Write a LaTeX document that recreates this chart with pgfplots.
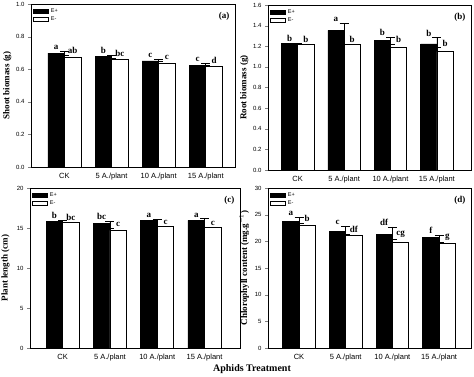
\documentclass[border=0pt]{standalone}
\usepackage{pgfplots}
\pgfplotsset{compat=1.18}
\usepackage{fontspec}
\setmainfont{Liberation Serif}
\setsansfont{Liberation Sans}

\tikzset{plab/.style={font=\bfseries\fontsize{9}{10}\selectfont}}
\pgfplotsset{
 panel/.style={
  scale only axis, anchor=south west,
  xtick={1,2,3,4}, xticklabels={CK,5 A./plant,10 A./plant,15 A./plant},
  x tick label style={font=\sffamily\fontsize{7.5}{8}\selectfont},
  y tick label style={font=\sffamily\fontsize{6}{7}\selectfont},
  /pgf/number format/assume math mode=true,
  tick align=outside, xtick style={draw=none}, ytick pos=left, major tick length=3pt,
  ymin=0, axis line style={line width=0.8pt, black},
  every axis y label/.style={at={(axis description cs:-0.117,0.5)}, anchor=center, rotate=90, font=\bfseries\fontsize{9}{10}\selectfont},
  legend style={at={(rel axis cs:0,1)}, anchor=north west, xshift=1pt, yshift=-2pt, draw=none, fill=none, font=\sffamily\fontsize{5.5}{6.5}\selectfont, row sep=-1.5pt, inner sep=1pt},
  legend image code/.code={\draw[#1] (0pt,-2pt) rectangle (15pt,2pt);},
  legend cell align=left,
  error bars/error bar style={line width=0.7pt, black},
  error bars/error mark options={rotate=90, mark size=4.5pt, line width=0.7pt, black},
 },
 eplus/.style={ybar, bar width=0.35, bar shift=-0.175, fill=black, draw=black, line width=0.7pt, error bars/.cd, y dir=plus, y explicit},
 eminus/.style={ybar, bar width=0.35, bar shift=0.175, fill=white, draw=black, line width=0.7pt, error bars/.cd, y dir=plus, y explicit},
 lett/.style={forget plot, draw=none, mark=none, nodes near coords, point meta=explicit symbolic, nodes near coords style={font=\bfseries\fontsize{9}{9}\selectfont, anchor=south, inner sep=1.5pt}},
}

\begin{document}
\begin{tikzpicture}
\useasboundingbox (0pt,0pt) rectangle (474pt,376pt);

% (a)
\begin{axis}[panel, at={(31pt,209pt)}, width=204pt, height=163pt,
  xmin=0.29, xmax=4.62, ymax=1.0, ytick distance=0.2,
  yticklabel style={/pgf/number format/.cd, fixed, fixed zerofill, precision=1},
  ylabel={Shoot biomass (g)}]
\addplot[eplus] coordinates {(1,0.698) +- (0,0.010) (2,0.676) +- (0,0.012) (3,0.651) +- (0,0.012) (4,0.624) +- (0,0.013)};
\addplot[eminus] coordinates {(1,0.671) +- (0,0.015) (2,0.663) +- (0,0.002) (3,0.637) +- (0,0.014) (4,0.616) +- (0,0.008)};
\legend{E+,E-}
\addplot[lett] coordinates {(0.825,0.708) [a] (1.825,0.688) [b] (2.825,0.663) [c] (3.825,0.637) [c]};
\addplot[lett] coordinates {(1.175,0.686) [ab] (2.175,0.665) [bc] (3.175,0.651) [c] (4.175,0.624) [d]};
\node[plab, anchor=north east, xshift=-2pt, yshift=-5pt] at (rel axis cs:1,1) {(a)};
\end{axis}

% (b)
\begin{axis}[panel, at={(268pt,206pt)}, width=203pt, height=165pt,
  xmin=0.36, xmax=4.735, ymax=1.6, ytick distance=0.2,
  yticklabel style={/pgf/number format/.cd, fixed, fixed zerofill, precision=1},
  ylabel={Root biomass (g)}]
\addplot[eplus] coordinates {(1,1.225) +- (0,0.005) (2,1.355) +- (0,0.065) (3,1.255) +- (0,0.030) (4,1.222) +- (0,0.060)};
\addplot[eminus] coordinates {(1,1.220) +- (0,0.003) (2,1.220) +- (0,0.003) (3,1.185) +- (0,0.032) (4,1.150) +- (0,0.035)};
\legend{E+,E-}
\addplot[lett] coordinates {(0.825,1.230) [b] (1.825,1.420) [a] (2.825,1.285) [b] (3.825,1.282) [b]};
\addplot[lett] coordinates {(1.175,1.223) [b] (2.175,1.223) [b] (3.175,1.217) [b] (4.175,1.185) [b]};
\node[plab, anchor=north east, xshift=-2pt, yshift=-5pt] at (rel axis cs:1,1) {(b)};
\end{axis}

% (c)
\begin{axis}[panel, at={(30pt,28pt)}, width=210pt, height=160pt,
  xmin=0.31, xmax=4.75, ymax=20, ytick distance=5,
  ylabel={Plant length (cm)}]
\addplot[eplus] coordinates {(1,15.85) +- (0,0.10) (2,15.60) +- (0,0.20) (3,16.00) +- (0,0.10) (4,15.95) +- (0,0.20)};
\addplot[eminus] coordinates {(1,15.70) +- (0,0.05) (2,14.70) +- (0,0.30) (3,15.20) +- (0,0.05) (4,15.05) +- (0,0.05)};
\legend{E+,E-}
\addplot[lett] coordinates {(0.825,15.95) [b] (1.825,15.80) [bc] (2.825,16.10) [a] (3.825,16.15) [a]};
\addplot[lett] coordinates {(1.175,15.75) [bc] (2.175,15.00) [c] (3.175,15.25) [c] (4.175,15.10) [c]};
\node[plab, anchor=north east, xshift=-2pt, yshift=-5pt] at (rel axis cs:1,1) {(c)};
\end{axis}

% (d)
\begin{axis}[panel, at={(268pt,28pt)}, width=203pt, height=160pt,
  xmin=0.336, xmax=4.683, ymax=30, ytick distance=5,
  ylabel={Chlorophyll content (mg.g$^{-1}$)}]
\addplot[eplus] coordinates {(1,23.7) +- (0,0.80) (2,21.9) +- (0,0.95) (3,21.3) +- (0,1.40) (4,20.7) +- (0,0.45)};
\addplot[eminus] coordinates {(1,23.0) +- (0,0.35) (2,21.2) +- (0,0.15) (3,19.8) +- (0,0.55) (4,19.7) +- (0,0.10)};
\legend{E+,E-}
\addplot[lett] coordinates {(0.825,24.5) [a] (1.825,22.85) [c] (2.825,22.7) [df] (3.825,21.15) [f]};
\addplot[lett] coordinates {(1.175,23.35) [b] (2.175,21.35) [df] (3.175,20.35) [cg] (4.175,19.8) [g]};
\node[plab, anchor=north east, xshift=-2pt, yshift=-5pt] at (rel axis cs:1,1) {(d)};
\end{axis}

\node[font=\bfseries\fontsize{10}{12}\selectfont] at (252pt,7pt) {Aphids Treatment};
\end{tikzpicture}
\end{document}
